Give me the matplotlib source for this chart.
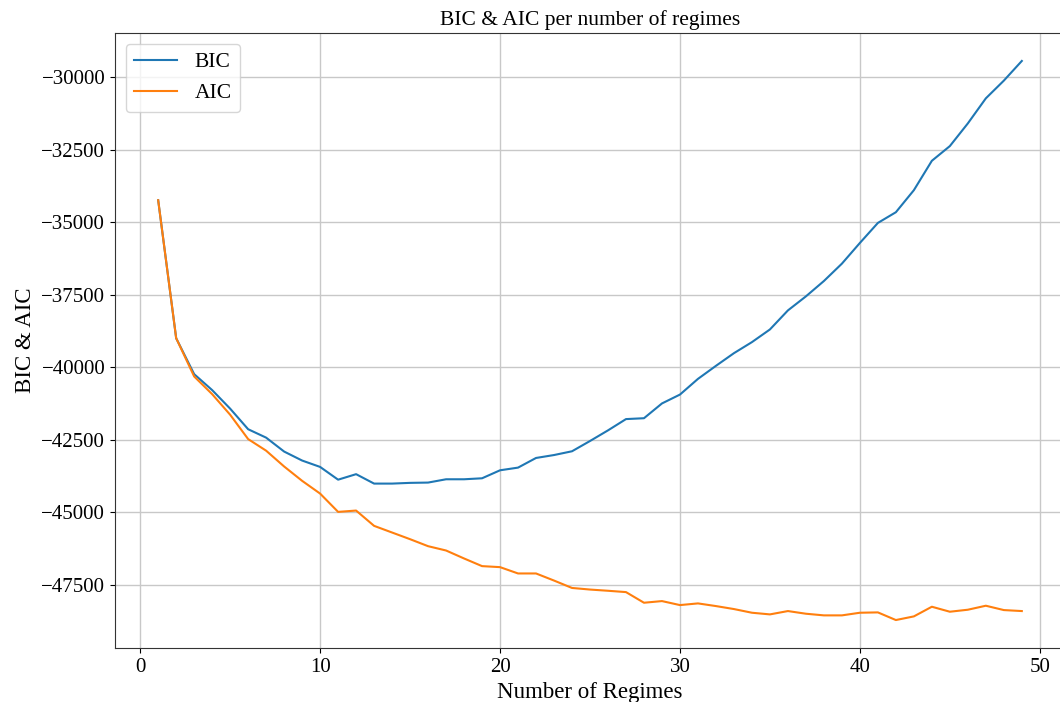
import matplotlib
matplotlib.use("Agg")
import matplotlib.pyplot as plt

plt.rcParams['font.family'] = ['Liberation Serif', 'DejaVu Serif']

regimes = list(range(1, 50))

bic = [-34240, -39000, -40240, -40790, -41430, -42140, -42430, -42910, -43220, -43440,
       -43880, -43690, -44015, -44015, -43990, -43980, -43866, -43866, -43832, -43556,
       -43464, -43131, -43030, -42900, -42546, -42179, -41790, -41760, -41250, -40944,
       -40403, -39953, -39516, -39135, -38698, -38041, -37557, -37027, -36428, -35714,
       -35023, -34654, -33894, -32880, -32373, -31590, -30726, -30115, -29436]

aic = [-34240, -39000, -40320, -40930, -41640, -42480, -42880, -43425, -43920, -44360,
       -44991, -44945, -45473, -45703, -45933, -46174, -46323, -46598, -46862, -46897,
       -47115, -47115, -47360, -47615, -47670, -47712, -47758, -48125, -48068, -48206,
       -48148, -48240, -48343, -48470, -48527, -48412, -48504, -48561, -48561, -48470,
       -48458, -48722, -48596, -48263, -48435, -48366, -48228, -48378, -48412]

fig = plt.figure(figsize=(10.6, 7.02), dpi=100)
ax = fig.add_axes([115 / 1060, 54 / 702, 950 / 1060, 615 / 702])

ax.plot(regimes, bic, label='BIC', linewidth=1.5)
ax.plot(regimes, aic, label='AIC', linewidth=1.5)

ax.grid(True, color='#c8c8c8', linewidth=1)
ax.set_title('BIC & AIC per number of regimes', fontsize=15.5)
ax.set_xlabel('Number of Regimes', fontsize=16.5)
ax.set_ylabel('BIC & AIC', fontsize=16.5)
ax.tick_params(labelsize=15)
for s in ax.spines.values():
    s.set_color('#333333')
ax.legend(loc='upper left', fontsize=15.5)

fig.savefig('out.png', dpi=100)
